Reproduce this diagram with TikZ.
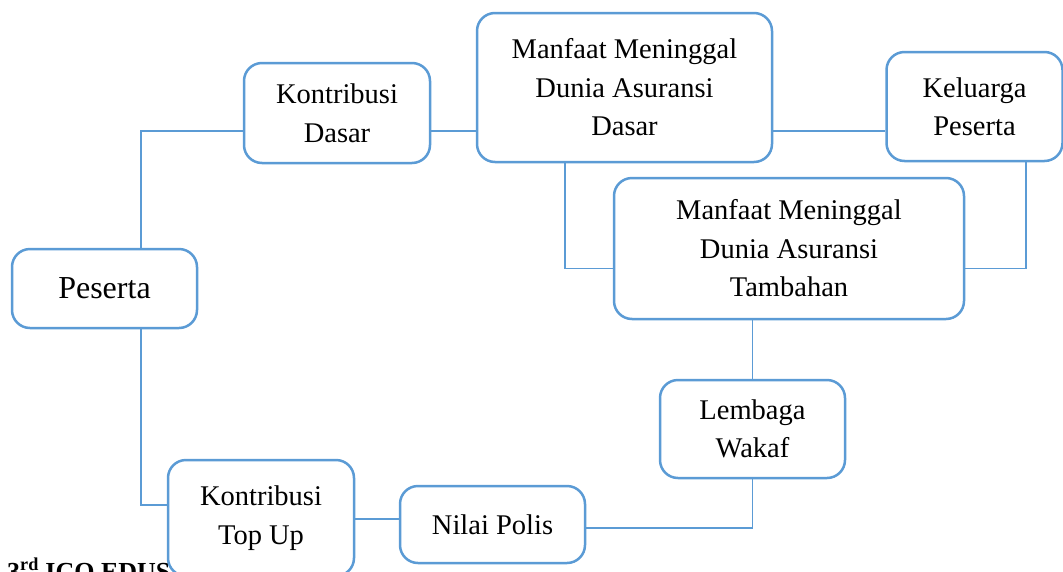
\documentclass[tikz,border=0pt]{standalone}
\usepackage{fontspec}
\setmainfont{Liberation Serif}
\definecolor{biruKotak}{HTML}{5B9BD5}

\begin{document}
\begin{tikzpicture}[x=1pt,y=-1pt,
    kotak/.style={draw=biruKotak,line width=2.5pt,rounded corners=18pt,fill=white,
      align=center,inner sep=0pt,font=\fontsize{28.5}{38.5}\selectfont},
    garis/.style={draw=biruKotak,line width=1.2pt}]
        \clip (0,0) rectangle (1063,571);
        % teks yang terpotong di bawah
        \node[anchor=base west,font=\fontsize{26}{28}\selectfont\bfseries,inner sep=0pt] (kaki) at (7,580) {3\textsuperscript{rd} ICO EDUS};
        % kotak-kotak
        \node[kotak,minimum width=185,minimum height=79,font=\fontsize{32}{38}\selectfont] (peserta) at (104.5,288.5) {Peserta};
        \node[kotak,minimum width=186,minimum height=100] (kontribusiDasar) at (337,113) {Kontribusi\\Dasar};
        \node[kotak,minimum width=295,minimum height=149] (manfaatDasar) at (624.5,87.5) {Manfaat Meninggal\\Dunia Asuransi\\Dasar};
        \node[kotak,minimum width=176,minimum height=109] (keluarga) at (974.5,106.5) {Keluarga\\Peserta};
        \node[kotak,minimum width=350,minimum height=141] (manfaatTambahan) at (789,248.5) {Manfaat Meninggal\\Dunia Asuransi\\Tambahan};
        \node[kotak,minimum width=185,minimum height=98] (lembagaWakaf) at (752.5,429) {Lembaga\\Wakaf};
        \node[kotak,minimum width=185,minimum height=77] (nilaiPolis) at (492.5,524.5) {Nilai Polis};
        \node[kotak,minimum width=186,minimum height=116] (kontribusiTopUp) at (261,518) {Kontribusi\\Top Up};
        % lajur garis
        \coordinate (lajurKiri) at (141,0);
        \coordinate (lajurAtas) at (0,131);
        \coordinate (lajurTengah) at (0,268.5);
        \coordinate (lajurWakaf) at (0,528);
        \coordinate (lajurPolis) at (0,519);
        \coordinate (lajurTopUp) at (0,505);
        % garis penghubung
        \draw[garis] (peserta.north -| lajurKiri) |- (kontribusiDasar.west |- lajurAtas);
        \draw[garis] (kontribusiDasar.east |- lajurAtas) -- (manfaatDasar.west |- lajurAtas);
        \draw[garis] (manfaatDasar.east |- lajurAtas) -- (keluarga.west |- lajurAtas);
        \draw[garis] ([xshift=-59.5pt]manfaatDasar.south) |- (manfaatTambahan.west |- lajurTengah);
        \draw[garis] ([xshift=51.5pt]keluarga.south) |- (manfaatTambahan.east |- lajurTengah);
        \draw[garis] (manfaatTambahan.south -| lembagaWakaf) -- (lembagaWakaf.north);
        \draw[garis] (lembagaWakaf.south) |- (nilaiPolis.east |- lajurWakaf);
        \draw[garis] (nilaiPolis.west |- lajurPolis) -- (kontribusiTopUp.east |- lajurPolis);
        \draw[garis] (peserta.south -| lajurKiri) |- (kontribusiTopUp.west |- lajurTopUp);
\end{tikzpicture}
\end{document}
